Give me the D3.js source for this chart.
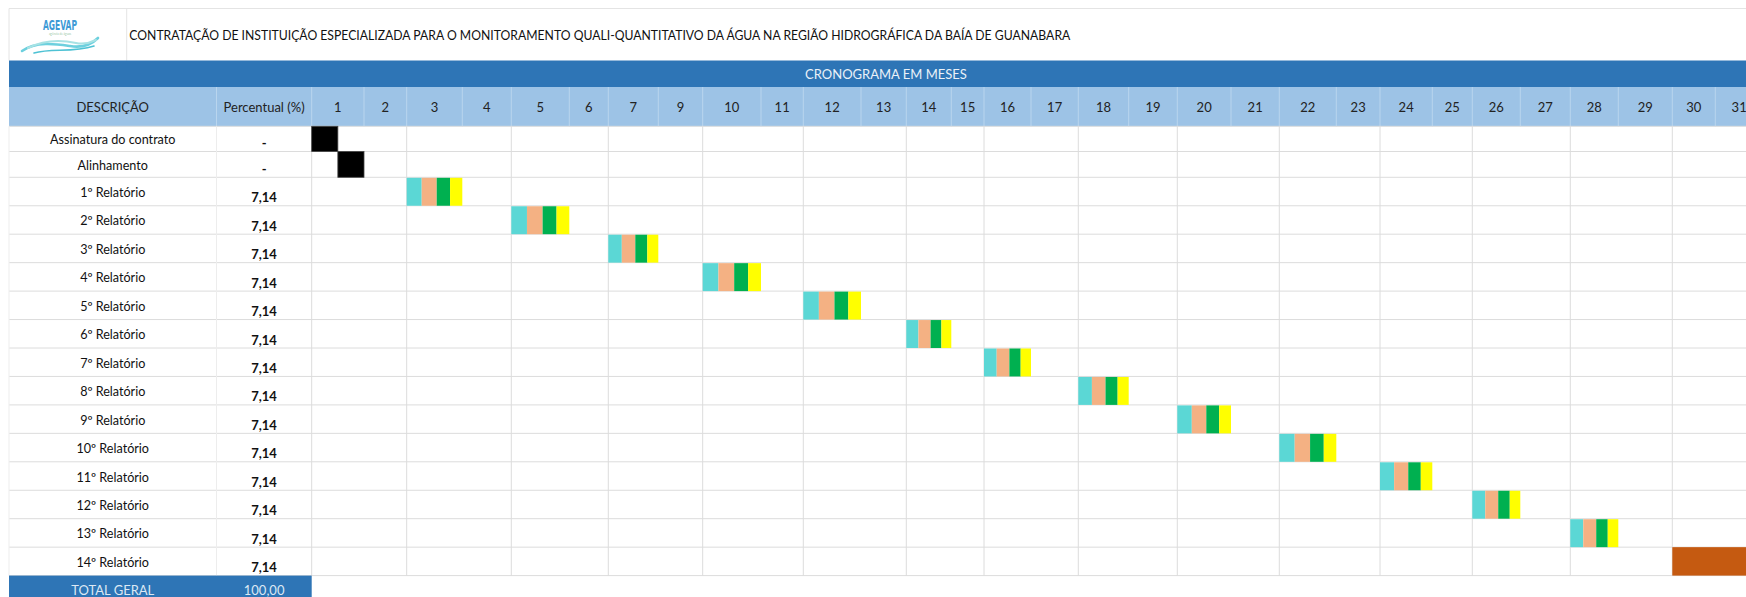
<!DOCTYPE html>
<html>
<head>
<meta charset="utf-8">
<script src="https://cdn.jsdelivr.net/npm/d3@7"></script>
<style>
body { margin: 0; background: #fff; }
svg { display: block; font-family: Lato, 'Open Sans', sans-serif; }
</style>
</head>
<body>
<svg id="view" width="1746" height="597"></svg>
<script>
// ---- data ----
const TITLE = 'CONTRATAÇÃO DE INSTITUIÇÃO ESPECIALIZADA PARA O MONITORAMENTO QUALI-QUANTITATIVO DA ÁGUA NA REGIÃO HIDROGRÁFICA DA BAÍA DE GUANABARA';
const BANNER = 'CRONOGRAMA EM MESES';
const headers = ['DESCRIÇÃO', 'Percentual (%)'];
const months = ['1','2','3','4','5','6','7','9','10','11','12','13','14','15','16','17','18','19','20','21','22','23','24','25','26','27','28','29','30','31'];
const tasks = ['Assinatura do contrato', 'Alinhamento', '1º Relatório', '2º Relatório', '3º Relatório', '4º Relatório',
    '5º Relatório', '6º Relatório', '7º Relatório', '8º Relatório', '9º Relatório', '10º Relatório',
    '11º Relatório', '12º Relatório', '13º Relatório', '14º Relatório'];
const percents = ['-', '-', '7,14', '7,14', '7,14', '7,14', '7,14', '7,14', '7,14', '7,14', '7,14', '7,14', '7,14', '7,14', '7,14', '7,14'];
const taskMonth = ['1', '1', '3', '5', '7', '10', '12', '14', '16', '18', '20', '22', '24', '26', '28', '30'];
const taskOffset = [0, 0.5, 0, 0, 0, 0, 0, 0, 0, 0, 0, 0, 0, 0, 0, 0];
const taskLength = [0.5, 0.5, 1, 1, 1, 1, 1, 1, 1, 1, 1, 1, 1, 1, 1, 2];
const taskKind = ['marco', 'marco', 'rel', 'rel', 'rel', 'rel', 'rel', 'rel', 'rel', 'rel', 'rel', 'rel', 'rel', 'rel', 'rel', 'final'];
const phaseShare = [0.27, 0.27, 0.24, 0.22];
const TOTAL_LABEL = 'TOTAL GERAL', TOTAL_VALUE = '100,00';

// ---- layout ----
const colEdges = [311.7, 364, 406.7, 462.3, 511.3, 569.3, 608.3, 658.3, 702.7, 761, 803.3, 861, 906.3, 951.3, 984,
    1031, 1078.3, 1128.7, 1177.3, 1231, 1279.3, 1336.3, 1380, 1432.3, 1472.3, 1520.3, 1570.3, 1618.3, 1672.3, 1715.3, 1763];
const LEFT = 9, DESC_R = 216.5, W = 1746;
const TITLE_TOP = 8.5, BANNER_TOP = 60.5, HEAD_TOP = 87, ROW_TOP = 126.3;
const rowHeights = [25.2, 25.8].concat(d3.range(15).map(() => 28.45));
const rowEdges = [ROW_TOP].concat(Array.from(d3.cumsum(rowHeights), v => ROW_TOP + v));
const phaseColors = ['#5BD7D5', '#F4B183', '#00B050', '#FFFF00'];
const BLUE = '#2E75B6', HEAD = '#9DC3E6', GRID = '#DCDCDC';

const x = d3.scaleLinear().domain(d3.range(colEdges.length)).range(colEdges);
const y = d3.scaleLinear().domain(d3.range(rowEdges.length)).range(rowEdges);

var view = d3.select('#view');

// title row
view.append('line').attr('x1', LEFT).attr('x2', W).attr('y1', TITLE_TOP).attr('y2', TITLE_TOP)
    .attr('stroke', '#E4E4E4');
view.append('line').attr('x1', LEFT).attr('x2', LEFT).attr('y1', TITLE_TOP).attr('y2', BANNER_TOP)
    .attr('stroke', '#E4E4E4');
view.append('line').attr('x1', 126.7).attr('x2', 126.7).attr('y1', TITLE_TOP).attr('y2', BANNER_TOP)
    .attr('stroke', '#E4E4E4');
view.append('text').attr('x', 129.3).attr('y', 39.5)
    .attr('font-size', 13.2).attr('fill', '#111')
    .attr('textLength', 941).attr('lengthAdjust', 'spacingAndGlyphs')
    .text(TITLE);

// logo
var logo = view.append('g');
logo.append('text').attr('x', 43).attr('y', 30)
    .attr('font-size', 14).attr('font-weight', 'bold').attr('font-family', 'DejaVu Sans Condensed, sans-serif')
    .attr('fill', '#3D9AD6').attr('textLength', 34).attr('lengthAdjust', 'spacingAndGlyphs')
    .text('AGEVAP');
logo.append('text').attr('x', 60).attr('y', 35).attr('text-anchor', 'middle')
    .attr('font-size', 3).attr('fill', '#9CC9A9').text('agência de águas');
[['M22,51 C36,41 56,44 70,46 C82,48 92,44 98,38', '#6DD0DE', 2.6],
 ['M28,48 C44,40 62,40 76,43 C86,45 92,42 96,40', '#A7E2E4', 2],
 ['M34,53 C52,48 72,53 94,46', '#4EC2D4', 1.6]].forEach(function(w) {
    logo.append('path').attr('d', w[0]).attr('fill', 'none')
        .attr('stroke', w[1]).attr('stroke-width', w[2]).attr('stroke-linecap', 'round');
});

// banner
view.append('rect').attr('x', LEFT).attr('y', BANNER_TOP).attr('width', W - LEFT).attr('height', HEAD_TOP - BANNER_TOP)
    .attr('fill', BLUE);
view.append('text').attr('x', 886).attr('y', 78.5).attr('text-anchor', 'middle')
    .attr('font-size', 13).attr('fill', '#EAF1F8').text(BANNER);

// header row
view.append('rect').attr('x', LEFT).attr('y', HEAD_TOP).attr('width', W - LEFT).attr('height', ROW_TOP - HEAD_TOP)
    .attr('fill', HEAD);
var headSep = [DESC_R].concat(colEdges.slice(0, -1));
view.selectAll('line.hsep').data(headSep).enter().append('line')
    .attr('class', 'hsep')
    .attr('x1', d => d).attr('x2', d => d)
    .attr('y1', HEAD_TOP).attr('y2', ROW_TOP)
    .attr('stroke', '#B9D5EE');
var headY = 111.5;
view.append('text').attr('x', (LEFT + DESC_R) / 2).attr('y', headY).attr('text-anchor', 'middle')
    .attr('font-size', 13).attr('fill', '#222').text(headers[0]);
view.append('text').attr('x', (DESC_R + colEdges[0]) / 2).attr('y', headY).attr('text-anchor', 'middle')
    .attr('font-size', 13).attr('fill', '#222').text(headers[1]);
view.selectAll('text.month').data(months).enter().append('text')
    .attr('class', 'month')
    .attr('x', (d, i) => (x(i) + x(i + 1)) / 2)
    .attr('y', headY).attr('text-anchor', 'middle')
    .attr('font-size', 13).attr('fill', '#222')
    .text(d => d);

// body grid
var bodyBottom = y(tasks.length);
view.selectAll('line.row').data(d3.range(tasks.length + 1)).enter().append('line')
    .attr('class', 'row')
    .attr('x1', LEFT).attr('x2', W)
    .attr('y1', d => y(d)).attr('y2', d => y(d))
    .attr('stroke', GRID);
var vcols = d3.range(0, months.length - 1, 2);
view.selectAll('line.col').data(vcols).enter().append('line')
    .attr('class', 'col')
    .attr('x1', d => x(d)).attr('x2', d => x(d))
    .attr('y1', ROW_TOP).attr('y2', bodyBottom)
    .attr('stroke', GRID);
[LEFT, DESC_R].forEach(function(v) {
    view.append('line').attr('x1', v).attr('x2', v).attr('y1', ROW_TOP).attr('y2', bodyBottom)
        .attr('stroke', '#EDEDED');
});

// bars
var bars = view.append('g');
var cum = [0].concat(Array.from(d3.cumsum(phaseShare)));
tasks.forEach(function(t, i) {
    var c = months.indexOf(taskMonth[i]) + taskOffset[i], len = taskLength[i];
    var y0 = y(i), y1 = y(i + 1);
    if (taskKind[i] === 'marco') {
        bars.append('rect').attr('x', x(c)).attr('y', y0)
            .attr('width', x(c + len) - x(c)).attr('height', y1 - y0)
            .attr('fill', '#000').attr('stroke', '#444').attr('stroke-width', 0.8);
    } else if (taskKind[i] === 'final') {
        bars.append('rect').attr('x', x(c)).attr('y', y0)
            .attr('width', x(c + len) - x(c)).attr('height', y1 - y0)
            .attr('fill', '#C55A11');
    } else {
        phaseColors.forEach(function(col, j) {
            var a = x(c + cum[j] * len), b = x(c + cum[j + 1] * len);
            bars.append('rect').attr('x', a).attr('y', y0 + 0.5)
                .attr('width', b - a).attr('height', y1 - y0 - 0.5)
                .attr('fill', col);
        });
    }
});

// body text
view.selectAll('text.task').data(tasks).enter().append('text')
    .attr('class', 'task')
    .attr('x', (LEFT + DESC_R) / 2)
    .attr('y', (d, i) => (y(i) + y(i + 1)) / 2 + 5.5)
    .attr('text-anchor', 'middle').attr('font-size', 12.6).attr('fill', '#111')
    .text(d => d);
view.selectAll('text.pct').data(percents).enter().append('text')
    .attr('class', 'pct')
    .attr('x', (DESC_R + colEdges[0]) / 2)
    .attr('y', (d, i) => y(i + 1) - 3.5)
    .attr('text-anchor', 'middle').attr('font-size', 13).attr('font-weight', 'bold').attr('fill', '#111')
    .text(d => d);

// total row
var ty = y(tasks.length);
view.append('rect').attr('x', LEFT).attr('y', ty).attr('width', colEdges[0] - LEFT).attr('height', 24)
    .attr('fill', BLUE);
view.append('text').attr('x', (LEFT + DESC_R) / 2).attr('y', ty + 19.5).attr('text-anchor', 'middle')
    .attr('font-size', 13).attr('fill', '#DCE8F4').text(TOTAL_LABEL);
view.append('text').attr('x', (DESC_R + colEdges[0]) / 2).attr('y', ty + 19.5).attr('text-anchor', 'middle')
    .attr('font-size', 13).attr('fill', '#DCE8F4').text(TOTAL_VALUE);
</script>
</body>
</html>
